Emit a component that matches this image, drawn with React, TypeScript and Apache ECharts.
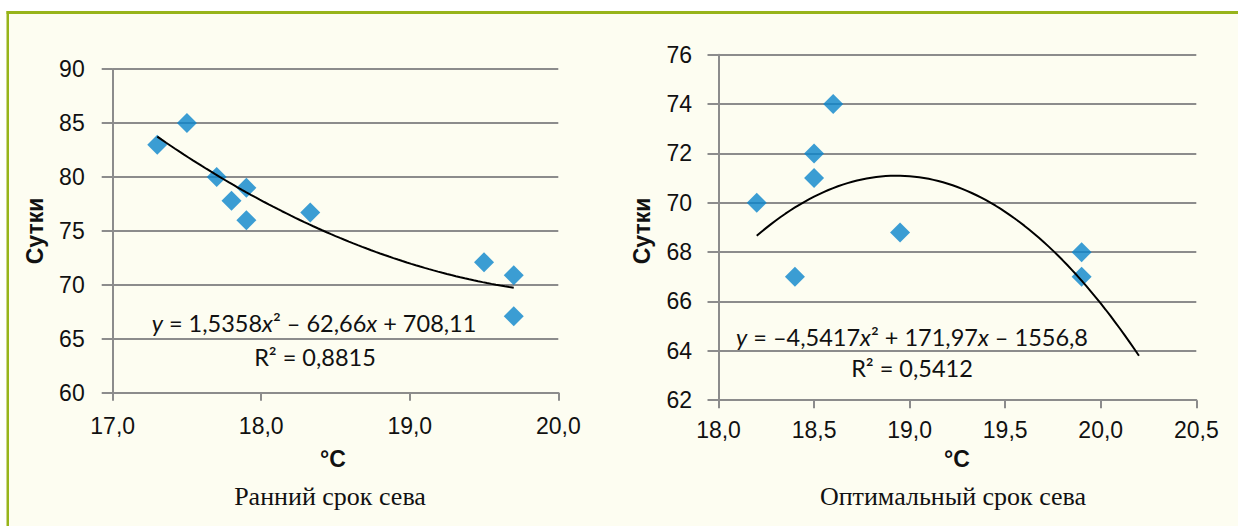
import React, { useEffect, useRef } from "react";
import * as echarts from "echarts";

// Ранний срок сева: температура (°C) и продолжительность (сутки)
const earlyTemp = [17.3, 17.5, 17.7, 17.8, 17.9, 17.9, 18.33, 19.5, 19.7, 19.7];
const earlyDays = [83, 85, 80, 77.8, 79, 76, 76.7, 72.1, 70.9, 67.1];
// Полиномиальный тренд 2-й степени (коэффициенты из подписи): a·x² + b·x + c
const earlyCoef = [1.5358, -62.66, 708.11];
const earlyR2 = "0,8815";
const earlyRange = [17.3, 19.7];

// Оптимальный срок сева
const optTemp = [18.2, 18.4, 18.5, 18.5, 18.6, 18.95, 19.9, 19.9];
const optDays = [70, 67, 72, 71, 74, 68.8, 68, 67];
const optCoef = [-4.5417, 171.97, -1556.8];
const optR2 = "0,5412";
const optRange = [18.2, 20.2];

const captions = ["Ранний срок сева", "Оптимальный срок сева"];
const yName = "Сутки";
const xName = "°C";

const GRID = "#8c8c8c";
const MARK = "#0a84cc";
const GREEN = "#97b41a";

function trend(coef: number[], range: number[]) {
  const pts: number[][] = [];
  const n = 80;
  for (let i = 0; i <= n; i++) {
    const x = range[0] + ((range[1] - range[0]) * i) / n;
    pts.push([x, coef[0] * x * x + coef[1] * x + coef[2]]);
  }
  return pts;
}

const fmtCoef = (v: number) => String(Math.abs(v)).replace(".", ",");
const sign = (v: number) => (v < 0 ? "–" : "+");

function equation(coef: number[]) {
  const a = (coef[0] < 0 ? "–" : "") + fmtCoef(coef[0]);
  return `{i|y} = ${a}{i|x}² ${sign(coef[1])} ${fmtCoef(coef[1])}{i|x} ${sign(coef[2])} ${fmtCoef(coef[2])}`;
}

const tickFmt = (v: number) => v.toFixed(1).replace(".", ",");

const TICK_FONT = { color: "#111", fontFamily: "Liberation Sans", fontSize: 23 };

function xAxisOpt(gridIndex: number, min: number, max: number, interval: number, margin: number) {
  return {
    gridIndex,
    type: "value",
    min,
    max,
    interval,
    axisLine: { show: true, lineStyle: { color: GRID, width: 2 } },
    axisTick: { show: true, length: 8, lineStyle: { color: GRID, width: 2 } },
    axisLabel: { formatter: tickFmt, margin, ...TICK_FONT },
    splitLine: { show: false },
  };
}

function yAxisOpt(gridIndex: number, min: number, max: number, interval: number, margin: number) {
  return {
    gridIndex,
    type: "value",
    min,
    max,
    interval,
    axisLine: { show: true, lineStyle: { color: GRID, width: 2 } },
    axisTick: { show: true, length: 11, lineStyle: { color: GRID, width: 2 } },
    axisLabel: { margin, ...TICK_FONT },
    splitLine: { show: true, lineStyle: { color: GRID, width: 2 } },
  };
}

const EQ_SIZE = 23.5;
const eqRich = {
  i: { fontStyle: "italic", fontFamily: "Lato", fontSize: EQ_SIZE, fill: "#111" },
};

function label(text: string, x: number, y: number, font: string, rotation = 0, rich?: any) {
  return {
    type: "text",
    x,
    y,
    rotation,
    style: {
      text,
      font,
      fill: "#111",
      textAlign: "center",
      textVerticalAlign: "middle",
      ...(rich ? { rich } : {}),
    },
  };
}

export default function App() {
  const ref = useRef<HTMLDivElement>(null);

  useEffect(() => {
    if (!ref.current) return;
    const chart = echarts.init(ref.current, undefined, { renderer: "svg" });
    const eqFont = `${EQ_SIZE}px Lato`;
    const nameFont = "bold 23px 'Liberation Sans'";
    const capFont = "26px 'Liberation Serif'";
    chart.setOption({
      animation: false,
      backgroundColor: "#fdfdf1",
      grid: [
        { left: 112.7, top: 69.1, width: 445.6, height: 323.7 },
        { left: 718.5, top: 54.7, width: 477.8, height: 345.5 },
      ],
      xAxis: [xAxisOpt(0, 17, 20, 1, 22), xAxisOpt(1, 18, 20.5, 0.5, 18)],
      yAxis: [yAxisOpt(0, 60, 90, 5, 28), yAxisOpt(1, 62, 76, 2, 26.5)],
      series: [
        {
          type: "scatter",
          xAxisIndex: 0,
          yAxisIndex: 0,
          symbol: "diamond",
          symbolSize: 20,
          itemStyle: { color: MARK },
          data: earlyTemp.map((t, i) => [t, earlyDays[i]]),
          z: 3,
        },
        {
          type: "line",
          xAxisIndex: 0,
          yAxisIndex: 0,
          showSymbol: false,
          lineStyle: { color: "#000", width: 2 },
          data: trend(earlyCoef, earlyRange),
          z: 4,
        },
        {
          type: "scatter",
          xAxisIndex: 1,
          yAxisIndex: 1,
          symbol: "diamond",
          symbolSize: 20,
          itemStyle: { color: MARK },
          data: optTemp.map((t, i) => [t, optDays[i]]),
          z: 3,
        },
        {
          type: "line",
          xAxisIndex: 1,
          yAxisIndex: 1,
          showSymbol: false,
          lineStyle: { color: "#000", width: 2 },
          data: trend(optCoef, optRange),
          z: 4,
        },
      ],
      graphic: [
        { type: "rect", shape: { x: 0, y: 0, width: 1238, height: 11 }, style: { fill: "#fff" } },
        { type: "rect", shape: { x: 0, y: 0, width: 6.5, height: 526 }, style: { fill: "#fff" } },
        { type: "rect", shape: { x: 6.5, y: 11, width: 1232, height: 3 }, style: { fill: GREEN } },
        { type: "rect", shape: { x: 6.5, y: 11, width: 2.5, height: 515 }, style: { fill: GREEN } },
        label(yName, 35, 231, nameFont, Math.PI / 2),
        label(yName, 642, 231, nameFont, Math.PI / 2),
        label(xName, 333, 459, nameFont),
        label(xName, 957, 459, nameFont),
        label(captions[0], 330, 496, capFont),
        label(captions[1], 953, 496, capFont),
        label(equation(earlyCoef), 314, 323, eqFont, 0, eqRich),
        label("R² = " + earlyR2, 315, 357, eqFont),
        label(equation(optCoef), 912, 337, eqFont, 0, eqRich),
        label("R² = " + optR2, 912, 368, eqFont),
      ],
    });
    return () => chart.dispose();
  }, []);

  return (
    <div
      ref={ref}
      style={{ position: "fixed", left: 0, top: 0, width: 1238, height: 526 }}
    />
  );
}
